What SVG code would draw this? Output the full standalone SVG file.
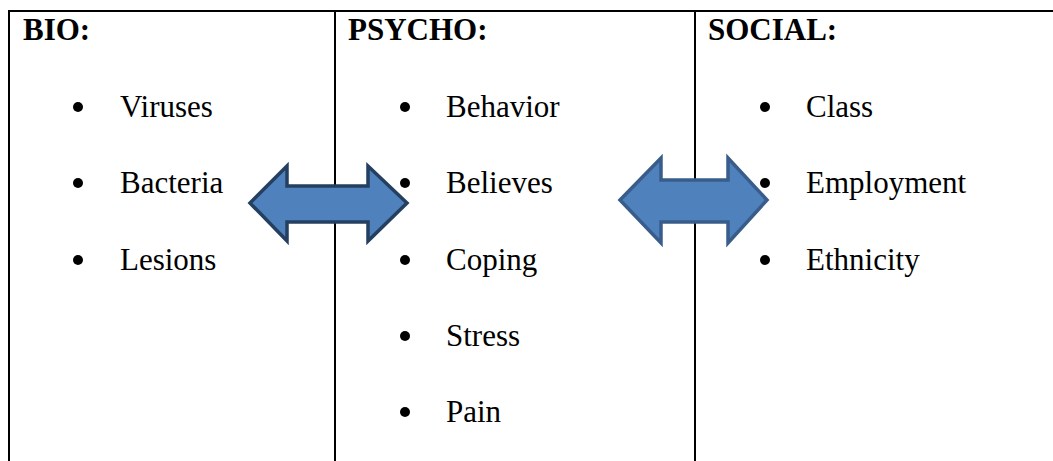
<svg xmlns="http://www.w3.org/2000/svg" width="1053" height="461" viewBox="0 0 1053 461">
<style>
.hd{font-family:"Liberation Serif","Times New Roman",serif;font-size:31px;font-weight:bold;fill:#000}
.it{font-family:"Liberation Serif","Times New Roman",serif;font-size:31px;fill:#000}
.ln{stroke:#000;stroke-width:2;fill:none}
.ar{fill:#4F81BD;stroke-width:3.5;stroke-linejoin:miter}
</style>
<rect width="1053" height="461" fill="#fff"/>
<g id="table">
<line class="ln" x1="8" y1="11" x2="1053" y2="11"/>
<line class="ln" x1="9" y1="10" x2="9" y2="461"/>
<line class="ln" x1="335" y1="11" x2="335" y2="461"/>
<line class="ln" x1="695" y1="11" x2="695" y2="461"/>
</g>
<g id="col-bio">
<text class="hd" x="23" y="40">BIO:</text>
<circle cx="78" cy="107" r="5"/><text class="it" x="120" y="117">Viruses</text>
<circle cx="78" cy="183" r="5"/><text class="it" x="120" y="193">Bacteria</text>
<circle cx="78" cy="260" r="5"/><text class="it" x="120" y="270">Lesions</text>
</g>
<g id="col-psycho">
<text class="hd" x="348" y="40">PSYCHO:</text>
<circle cx="405" cy="107" r="5"/><text class="it" x="446" y="117">Behavior</text>
<circle cx="405" cy="183" r="5"/><text class="it" x="446" y="193">Believes</text>
<circle cx="405" cy="260" r="5"/><text class="it" x="446" y="270">Coping</text>
<circle cx="405" cy="336" r="5"/><text class="it" x="446" y="346">Stress</text>
<circle cx="405" cy="412" r="5"/><text class="it" x="446" y="422">Pain</text>
</g>
<g id="col-social">
<text class="hd" x="708" y="40">SOCIAL:</text>
<circle cx="765" cy="107" r="5"/><text class="it" x="806" y="117">Class</text>
<circle cx="765" cy="183" r="5"/><text class="it" x="806" y="193">Employment</text>
<circle cx="765" cy="260" r="5"/><text class="it" x="806" y="270">Ethnicity</text>
</g>
<g id="connectors">
<polygon class="ar" stroke="#243F60" points="250,203 287,166 287,186 368,186 368,166 407,203 368,241 368,222 287,222 287,241"/>
<polygon class="ar" stroke="#385D8A" points="620,200 661,158 661,180 728,180 728,158 767,200 728,243 728,222 661,222 661,243"/>
</g>
</svg>
